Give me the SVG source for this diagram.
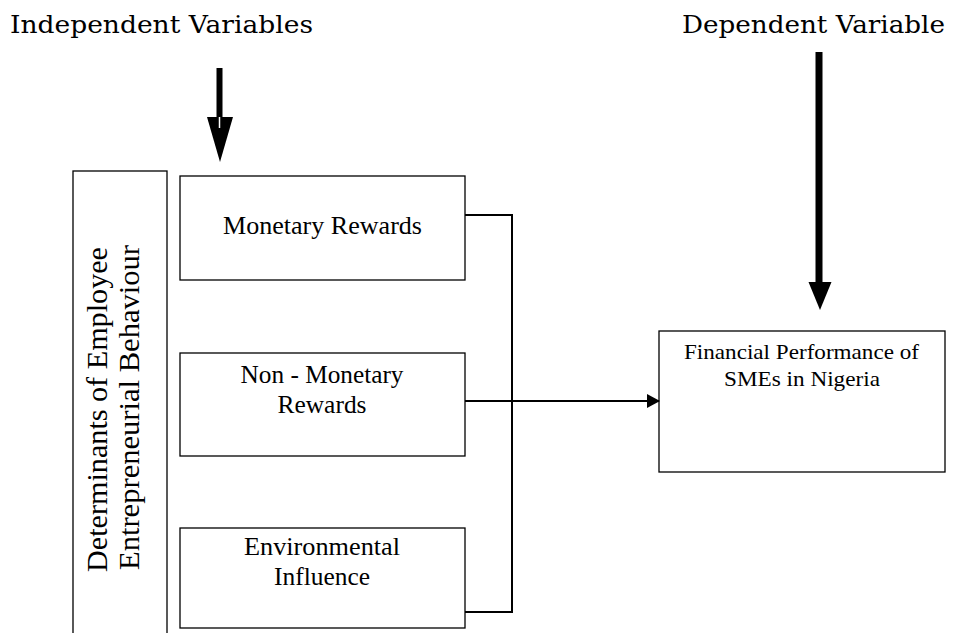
<svg xmlns="http://www.w3.org/2000/svg" width="953" height="633" viewBox="0 0 953 633">
<style>
.box{fill:#fff;stroke:#000;stroke-width:1.3}
.t{font-family:"Liberation Serif","Times New Roman",serif;fill:#000;text-anchor:middle}
.hd{font-family:"DejaVu Serif","Liberation Serif",serif;font-size:24px;fill:#000;text-anchor:middle}
.n{font-size:25px}
.f{font-size:22px}
.r{font-size:29px}
.c{fill:none;stroke:#000;stroke-width:2}
</style>
<defs>
<marker id="ah" markerWidth="13" markerHeight="14" refX="12" refY="7" orient="auto" markerUnits="userSpaceOnUse">
<path d="M0,0 L13,7 L0,14 Z" fill="#000"/>
</marker>
</defs>
<rect width="953" height="633" fill="#fff"/>
<text class="hd" x="161.5" y="33" textLength="303" lengthAdjust="spacingAndGlyphs">Independent Variables</text>
<text class="hd" x="813.5" y="33" textLength="263" lengthAdjust="spacingAndGlyphs">Dependent Variable</text>
<g id="arrow-independent">
<rect x="216.5" y="68" width="6" height="50" fill="#000"/>
<path d="M207,117 L233,117 L220,162 Z" fill="#000"/>
<path d="M219.5,117 L219.5,128" stroke="#fff" stroke-width="1.5"/>
</g>
<g id="arrow-dependent">
<rect x="815.5" y="52" width="7" height="232" fill="#000"/>
<path d="M808.5,282 L831.5,282 L820,310 Z" fill="#000"/>
</g>
<g id="determinants">
<rect class="box" x="73" y="171" width="94" height="470"/>
<text class="t r" transform="translate(107,409.5) rotate(-90)" textLength="325" lengthAdjust="spacingAndGlyphs">Determinants of Employee</text>
<text class="t r" transform="translate(139,407.5) rotate(-90)" textLength="325" lengthAdjust="spacingAndGlyphs">Entrepreneurial Behaviour</text>
</g>
<g id="monetary">
<rect class="box" x="180" y="176" width="285" height="104"/>
<text class="t n" x="322.5" y="234" textLength="199" lengthAdjust="spacingAndGlyphs">Monetary Rewards</text>
</g>
<g id="nonmonetary">
<rect class="box" x="180" y="353" width="285" height="103"/>
<text class="t n" x="322" y="383" textLength="163" lengthAdjust="spacingAndGlyphs">Non - Monetary</text>
<text class="t n" x="322" y="413" textLength="89" lengthAdjust="spacingAndGlyphs">Rewards</text>
</g>
<g id="environmental">
<rect class="box" x="180" y="528" width="285" height="100"/>
<text class="t n" x="322" y="555" textLength="156" lengthAdjust="spacingAndGlyphs">Environmental</text>
<text class="t n" x="322" y="585" textLength="96" lengthAdjust="spacingAndGlyphs">Influence</text>
</g>
<g id="financial">
<rect class="box" x="659" y="331" width="286" height="141"/>
<text class="t f" x="801.5" y="359" textLength="235" lengthAdjust="spacingAndGlyphs">Financial Performance of</text>
<text class="t f" x="802" y="386" textLength="156" lengthAdjust="spacingAndGlyphs">SMEs in Nigeria</text>
</g>
<g id="connectors">
<path class="c" d="M465,215 H512 V612 H465"/>
<path class="c" d="M465,401 H512"/>
<path class="c" d="M512,401 H659" stroke-width="2.5" marker-end="url(#ah)"/>
</g>
</svg>
